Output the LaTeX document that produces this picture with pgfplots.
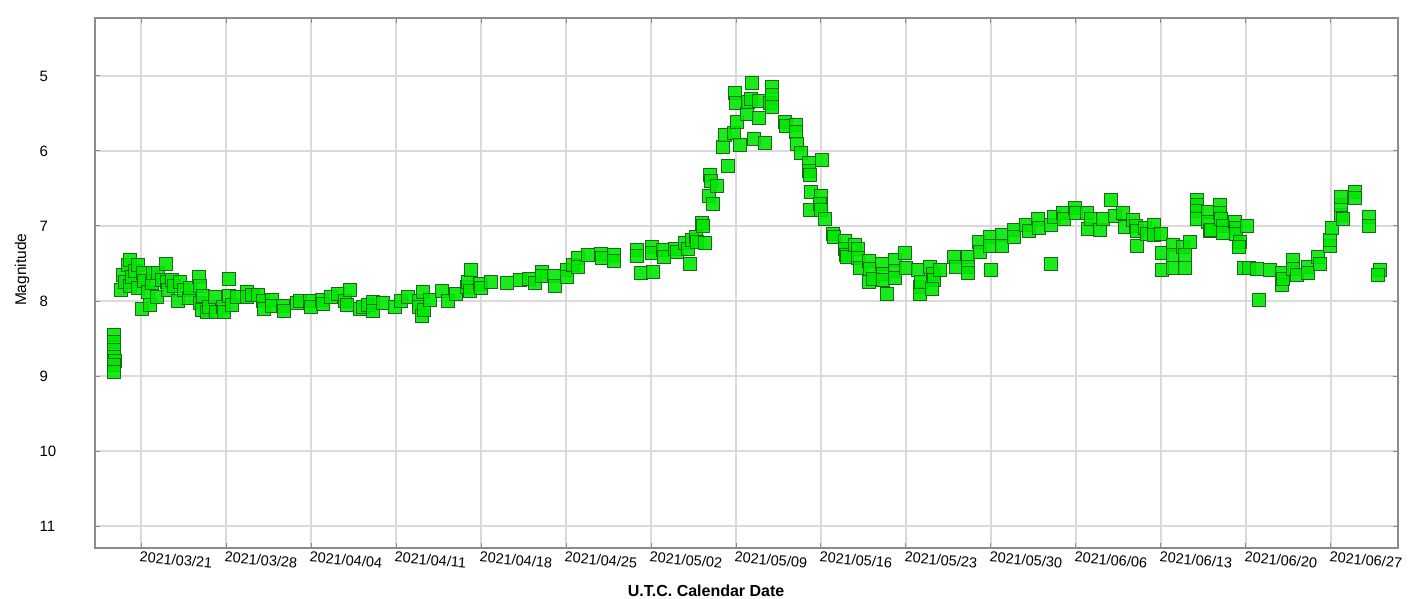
\documentclass[border=0pt]{standalone}
\usepackage{fontspec}
\setmainfont{Liberation Sans}
\usepackage{pgfplots}
\usepackage{pgfplotstable}
\pgfplotsset{compat=1.18}
\definecolor{ptfill}{RGB}{0,232,0}
\definecolor{ptedge}{RGB}{25,105,25}
\definecolor{gridgray}{RGB}{218,218,218}
\definecolor{framegray}{RGB}{140,140,140}

% days after 2021/03/21, visual magnitude
\pgfplotstableread{
d m
-2.2 8.45
-2.2 8.55
-2.2 8.65
-2.2 8.75
-2.15 8.80
-2.2 8.85
-2.2 8.95
-1.67 7.85
-1.46 7.65
-1.32 7.75
-1.05 7.52
-0.9 7.45
-0.96 7.80
-0.77 7.68
-0.5 7.60
-0.22 7.52
-0.22 7.83
0.05 8.10
0.14 7.63
0.2 7.73
0.6 7.88
0.74 8.05
0.88 7.76
1.0 7.63
1.3 7.94
1.42 7.63
1.7 7.72
2.03 7.50
2.1 7.74
2.2 7.85
2.5 7.72
2.7 7.80
3.07 8.00
3.2 7.75
3.5 7.85
3.9 7.96
4.03 7.83
4.8 7.68
4.85 7.80
4.86 8.03
5.0 8.12
5.1 7.93
5.4 8.15
5.6 8.08
6.1 7.94
6.2 8.15
6.78 8.08
6.8 8.15
7.2 7.70
7.2 7.93
7.5 8.05
7.9 7.95
8.7 7.88
8.75 7.95
9.1 7.92
9.66 7.92
10.07 8.00
10.1 8.10
10.76 7.98
10.8 8.07
11.7 8.07
11.75 8.13
12.8 8.02
13.1 8.00
13.9 8.00
13.95 8.08
14.9 7.98
15.0 8.04
15.6 7.94
16.2 7.90
16.8 8.00
16.95 8.05
17.2 7.85
18.0 8.10
18.3 8.08
18.7 8.05
19.1 8.01
19.1 8.13
19.95 8.03
20.9 8.08
21.4 8.00
22.0 7.94
22.85 8.00
22.9 8.08
23.1 8.20
23.25 7.88
23.3 8.12
23.8 7.99
24.8 7.86
25.3 8.00
25.9 7.90
26.8 7.81
26.9 7.75
27.2 7.59
27.1 7.86
27.9 7.77
28.0 7.83
28.8 7.74
30.1 7.76
31.2 7.72
31.9 7.70
32.4 7.76
33.0 7.61
33.0 7.66
33.96 7.67
34.1 7.80
35.05 7.59
35.1 7.68
35.6 7.52
36.0 7.43
36.0 7.55
36.8 7.39
37.9 7.37
37.95 7.43
38.9 7.39
38.95 7.46
40.8 7.32
40.85 7.40
41.15 7.63
42.05 7.28
42.1 7.36
42.15 7.61
43.0 7.32
43.05 7.41
44.0 7.30
44.1 7.34
44.8 7.23
45.05 7.30
45.2 7.50
45.35 7.19
45.7 7.15
45.8 7.21
46.2 6.96
46.3 7.00
46.45 7.22
46.8 6.60
46.85 6.32
46.9 6.40
47.1 6.70
47.4 6.47
47.95 5.94
48.1 5.79
48.3 6.20
48.8 5.76
48.9 5.23
48.95 5.36
49.05 5.61
49.3 5.92
49.9 5.50
49.95 5.35
50.3 5.09
50.2 5.30
50.45 5.84
50.85 5.56
50.9 5.33
51.4 5.89
51.8 5.36
51.95 5.14
51.95 5.25
51.95 5.41
53.0 5.61
53.1 5.67
53.9 5.65
53.95 5.74
54.05 5.90
54.3 6.03
55.0 6.16
55.0 6.27
55.05 6.32
56.05 6.12
55.2 6.54
55.1 6.79
56.0 6.60
55.9 6.70
56.0 6.79
56.3 6.90
57.0 7.10
57.05 7.15
58.0 7.20
58.0 7.30
58.05 7.38
58.1 7.41
58.8 7.25
59.0 7.30
59.0 7.42
59.2 7.56
59.9 7.47
60.0 7.57
59.9 7.74
60.3 7.70
61.0 7.50
61.1 7.64
61.1 7.72
61.4 7.90
62.1 7.45
62.1 7.60
62.1 7.69
62.9 7.36
63.0 7.56
64.0 7.59
64.15 7.81
64.15 7.90
64.2 7.74
64.97 7.54
65.2 7.64
65.3 7.72
65.1 7.84
65.8 7.59
66.9 7.41
67.1 7.54
68.1 7.41
68.1 7.54
68.1 7.63
69.0 7.21
69.1 7.34
69.9 7.14
69.9 7.27
70.0 7.59
70.9 7.12
70.9 7.27
71.85 7.05
71.85 7.14
72.9 6.99
73.1 7.07
73.9 6.90
73.95 7.03
74.9 7.50
74.9 6.99
75.15 6.88
75.95 6.83
76.0 6.90
76.9 6.76
76.95 6.83
77.9 6.83
78.0 7.04
78.2 6.90
79.0 7.05
79.2 6.90
79.9 6.65
80.2 6.86
80.9 6.83
81.0 7.01
81.7 6.92
81.9 7.00
82.0 7.07
82.0 7.26
82.7 7.02
82.85 7.11
83.4 6.99
83.4 7.12
83.95 7.10
84.05 7.36
84.05 7.59
85.0 7.25
85.0 7.39
85.0 7.56
85.8 7.28
85.95 7.39
85.95 7.56
86.4 7.21
86.95 6.65
86.95 6.72
86.95 6.80
86.95 6.90
87.9 6.81
87.9 6.94
88.05 7.07
88.1 7.05
88.85 6.72
88.85 6.82
88.95 6.90
89.1 7.00
89.1 7.09
90.1 6.94
90.15 7.03
90.15 7.10
90.5 7.21
90.4 7.28
91.05 7.00
90.8 7.56
91.2 7.56
91.9 7.57
92.05 7.98
93.0 7.58
93.95 7.63
93.95 7.78
94.0 7.70
94.9 7.45
94.9 7.57
95.2 7.65
96.1 7.54
96.1 7.63
96.95 7.41
97.1 7.50
97.9 7.27
97.9 7.18
98.05 7.03
98.85 6.85
98.85 6.72
98.85 6.61
98.95 6.90
99.95 6.54
100.0 6.63
101.1 6.88
101.1 7.00
102.0 7.59
101.9 7.65
}\obs

\begin{document}
\begin{tikzpicture}[x=1pt,y=1pt]
\useasboundingbox (0,0) rectangle (1419,599);
\begin{axis}[
    at={(95pt,51pt)}, anchor=south west,
    width=1303pt, height=530pt, scale only axis,
    xmin=-3.79, xmax=103.52,
    ymin=4.227, ymax=11.293, y dir=reverse,
    xtick={0,7,...,98},
    xticklabels={2021/03/21,2021/03/28,2021/04/04,2021/04/11,2021/04/18,2021/04/25,2021/05/02,2021/05/09,2021/05/16,2021/05/23,2021/05/30,2021/06/06,2021/06/13,2021/06/20,2021/06/27},
    ytick={5,6,...,11},
    /pgf/number format/assume math mode=true,
    grid=major,
    grid style={gridgray, line width=1.5pt},
    axis line style={framegray, line width=1.5pt},
    tick style={framegray, line width=1pt},
    major tick length=5pt,
    xticklabel style={font=\fontsize{14.5}{16}\selectfont, rotate=-5, anchor=north west, xshift=-4pt},
    yticklabel style={font=\fontsize{15}{17}\selectfont, anchor=west, xshift=-59pt},
    xlabel={\textbf{U.T.C. Calendar Date}},
    xlabel style={font=\fontsize{16}{18}\selectfont, at={(axis description cs:0.469,-0.081)}, anchor=center},
    ylabel={Magnitude},
    ylabel style={font=\fontsize{15.5}{17}\selectfont, at={(axis description cs:-0.056,0.525)}, anchor=center},
]
\addplot[only marks, mark=square*, mark size=6.5pt,
    mark options={fill=ptfill, draw=ptedge, line width=0.7pt, fill opacity=0.9}]
    table {\obs};
\end{axis}
\end{tikzpicture}
\end{document}
